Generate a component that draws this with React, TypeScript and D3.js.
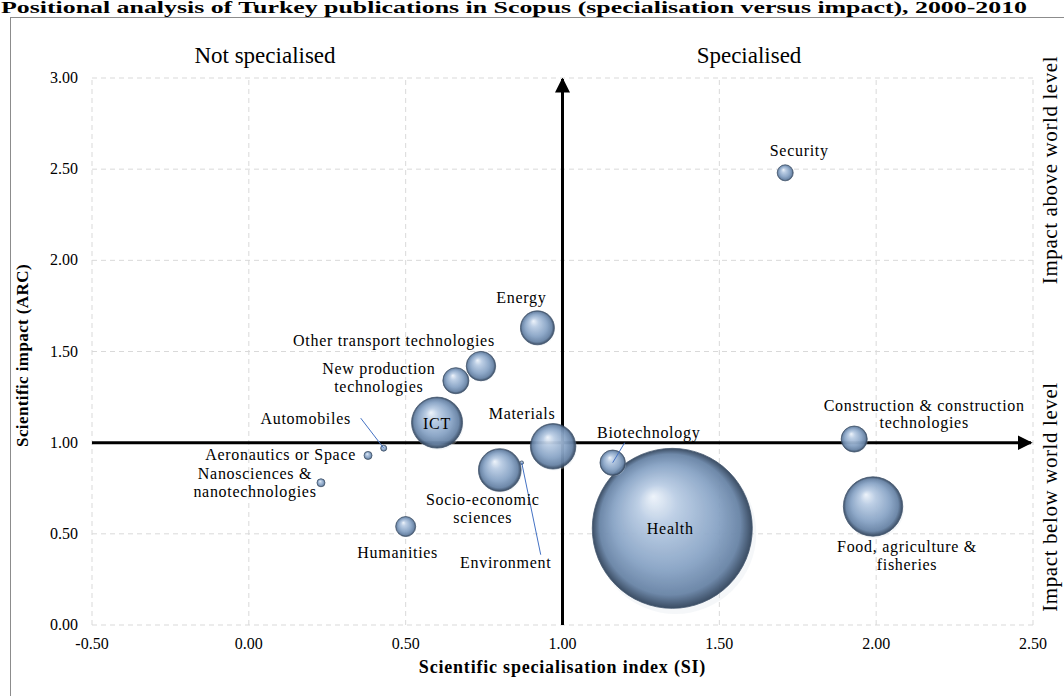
import React from 'react';
import * as d3 from 'd3';

// ---------- data ----------
const sectors = [
  'Environment',
  'Health',
  'Food, agriculture & fisheries',
  'ICT',
  'Materials',
  'Socio-economic sciences',
  'Energy',
  'Other transport technologies',
  'Construction & construction technologies',
  'New production technologies',
  'Biotechnology',
  'Humanities',
  'Security',
  'Aeronautics or Space',
  'Nanosciences & nanotechnologies',
  'Automobiles',
];
const specialisation = [0.87, 1.35, 1.99, 0.6, 0.97, 0.8, 0.92, 0.74, 1.93, 0.66, 1.16, 0.5, 1.71, 0.38, 0.23, 0.43];
const impact = [0.89, 0.53, 0.65, 1.11, 0.98, 0.85, 1.63, 1.42, 1.02, 1.34, 0.89, 0.54, 2.48, 0.93, 0.78, 0.97];
const publications = [20, 40000, 5500, 4060, 3220, 2840, 1800, 1350, 1060, 1060, 1010, 625, 400, 100, 100, 56];

const xTicks = [-0.5, 0, 0.5, 1, 1.5, 2, 2.5];
const yTicks = [0, 0.5, 1, 1.5, 2, 2.5, 3];

const title = 'Positional analysis of Turkey publications in Scopus (specialisation versus impact), 2000-2010';
const xTitle = 'Scientific specialisation index (SI)';
const yTitle = 'Scientific impact  (ARC)';

// ---------- label layout (offsets from bubble centre) ----------
type Lab = { lines: string[]; dx: number; dy: number[]; anchor?: string; leader?: [number, number] };
const labelLayout: Record<string, Lab> = {
  Environment: { lines: ['Environment'], dx: -16, dy: [105], leader: [19, 92] },
  Health: { lines: ['Health'], dx: -2, dy: [6] },
  'Food, agriculture & fisheries': { lines: ['Food, agriculture &', 'fisheries'], dx: 34, dy: [46, 64] },
  ICT: { lines: ['ICT'], dx: 0, dy: [6] },
  Materials: { lines: ['Materials'], dx: -31, dy: [-27] },
  'Socio-economic sciences': { lines: ['Socio-economic', 'sciences'], dx: -17, dy: [35, 53] },
  Energy: { lines: ['Energy'], dx: -16, dy: [-25] },
  'Other transport technologies': { lines: ['Other transport technologies'], dx: -87, dy: [-20] },
  'Construction & construction technologies': { lines: ['Construction & construction', 'technologies'], dx: 70, dy: [-28, -11] },
  'New production technologies': { lines: ['New production', 'technologies'], dx: -77, dy: [-7, 11] },
  Biotechnology: { lines: ['Biotechnology'], dx: 36, dy: [-25], leader: [12, -20] },
  Humanities: { lines: ['Humanities'], dx: -8, dy: [31] },
  Security: { lines: ['Security'], dx: 14, dy: [-17] },
  'Aeronautics or Space': { lines: ['Aeronautics or Space'], dx: -12, dy: [5], anchor: 'end' },
  'Nanosciences & nanotechnologies': { lines: ['Nanosciences &', 'nanotechnologies'], dx: -66, dy: [-4, 14] },
  Automobiles: { lines: ['Automobiles'], dx: -78, dy: [-24], leader: [-23, -30] },
};

const W = 1064;
const H = 696;
const serif = '"Times New Roman", "Liberation Serif", serif';
const fmt = (v: number) => d3.format('.2f')(v).replace('\u2212', '-');

export default function App() {
  const x = d3.scaleLinear().domain([-0.5, 2.5]).range([92, 1033]);
  const y = d3.scaleLinear().domain([0, 3]).range([625, 78]);
  const r = d3.scaleSqrt().domain([0, 40000]).range([0, 80]);

  const x0 = x(-0.5), x1 = x(2.5), y0 = y(0), y1 = y(3);
  const ax = x(1), ay = y(1);

  return (
    <svg
      width={W}
      height={H}
      style={{ position: 'absolute', left: 0, top: 0, background: '#fff' }}
      fontFamily={serif}
    >
      <defs>
        <radialGradient id="bub" cx="0.5" cy="0.5" r="0.5" fx="0.38" fy="0.3">
          <stop offset="0" stopColor="#eef4fb" />
          <stop offset="0.25" stopColor="#b9cce4" />
          <stop offset="0.65" stopColor="#87a3c5" />
          <stop offset="0.88" stopColor="#6581a4" />
          <stop offset="1" stopColor="#2d4058" />
        </radialGradient>
        <marker id="arr" viewBox="0 0 10 10" refX="9" refY="5" markerWidth="5" markerHeight="5" orient="auto">
          <path d="M0,0 L10,5 L0,10 Z" fill="#000" />
        </marker>
      </defs>

      {/* title */}
      <text x={1} y={13} fontSize={16} fontWeight="bold" textLength={1026} lengthAdjust="spacingAndGlyphs">
        {title}
      </text>

      {/* chart frame */}
      <rect x={10.5} y={17.5} width={1100} height={700} fill="none" stroke="#8c8c8c" strokeWidth={1} />

      {/* gridlines */}
      {xTicks.map((t) => (
        <line key={'gx' + t} x1={x(t)} x2={x(t)} y1={y0} y2={y1} stroke="#d9d9d9" strokeDasharray="5,4" />
      ))}
      {yTicks.map((t) => (
        <line key={'gy' + t} x1={x0} x2={x1} y1={y(t)} y2={y(t)} stroke="#d9d9d9" strokeDasharray="5,4" />
      ))}

      {/* tick labels */}
      {yTicks.map((t) => (
        <text key={'ty' + t} x={78} y={y(t) + 5} fontSize={16} textAnchor="end">
          {fmt(t)}
        </text>
      ))}
      {xTicks.map((t) => (
        <text key={'tx' + t} x={x(t)} y={y0 + 24} fontSize={16} textAnchor="middle">
          {fmt(t)}
        </text>
      ))}

      {/* axis titles */}
      <text x={ax} y={y0 + 48} fontSize={18} fontWeight="bold" textAnchor="middle" letterSpacing={0.8}>
        {xTitle}
      </text>
      <text
        transform={`translate(28, ${(y0 + y1) / 2 + 4}) rotate(-90)`}
        fontSize={17}
        fontWeight="bold"
        textAnchor="middle"
        letterSpacing={0.4}
      >
        {yTitle}
      </text>

      {/* quadrant texts */}
      <text x={265} y={63} fontSize={23} textAnchor="middle">Not specialised</text>
      <text x={749} y={63} fontSize={23} textAnchor="middle">Specialised</text>
      <text transform={`translate(1057, 170) rotate(-90)`} fontSize={21} textAnchor="middle" letterSpacing={0.6}>
        Impact above world level
      </text>
      <text transform={`translate(1057, 497) rotate(-90)`} fontSize={21} textAnchor="middle" letterSpacing={0.6}>
        Impact below world level
      </text>

      {/* axes through (1,1) */}
      <line x1={x0} x2={x1 - 2} y1={ay} y2={ay} stroke="#000" strokeWidth={3} markerEnd="url(#arr)" />
      <line x1={ax} x2={ax} y1={y0} y2={y1 + 1} stroke="#000" strokeWidth={3} markerEnd="url(#arr)" />

      {/* bubbles */}
      {sectors.map((s, i) => {
        const cx = x(specialisation[i]);
        const cy = y(impact[i]);
        const rad = r(publications[i]);
        return (
          <g key={'b' + s}>
            <circle cx={cx + rad * 0.04} cy={cy + rad * 0.06} r={rad * 1.01} fill="#dde3ea" opacity={0.3} />
            <circle cx={cx} cy={cy} r={rad} fill="url(#bub)" stroke="#3b4f68" strokeWidth={0.8} opacity={0.93} />
          </g>
        );
      })}

      {/* leader lines and labels */}
      {sectors.map((s, i) => {
        const cx = x(specialisation[i]);
        const cy = y(impact[i]);
        const L = labelLayout[s];
        return (
          <g key={'l' + s}>
            {L.leader && (
              <line x1={cx + L.leader[0]} y1={cy + L.leader[1]} x2={cx} y2={cy} stroke="#4472c4" strokeWidth={1} />
            )}
            {L.lines.map((ln, k) => (
              <text
                key={k}
                x={cx + L.dx}
                y={cy + L.dy[k]}
                fontSize={16}
                letterSpacing={0.7}
                textAnchor={L.anchor || 'middle'}
                fill="#000"
              >
                {ln}
              </text>
            ))}
          </g>
        );
      })}
    </svg>
  );
}
